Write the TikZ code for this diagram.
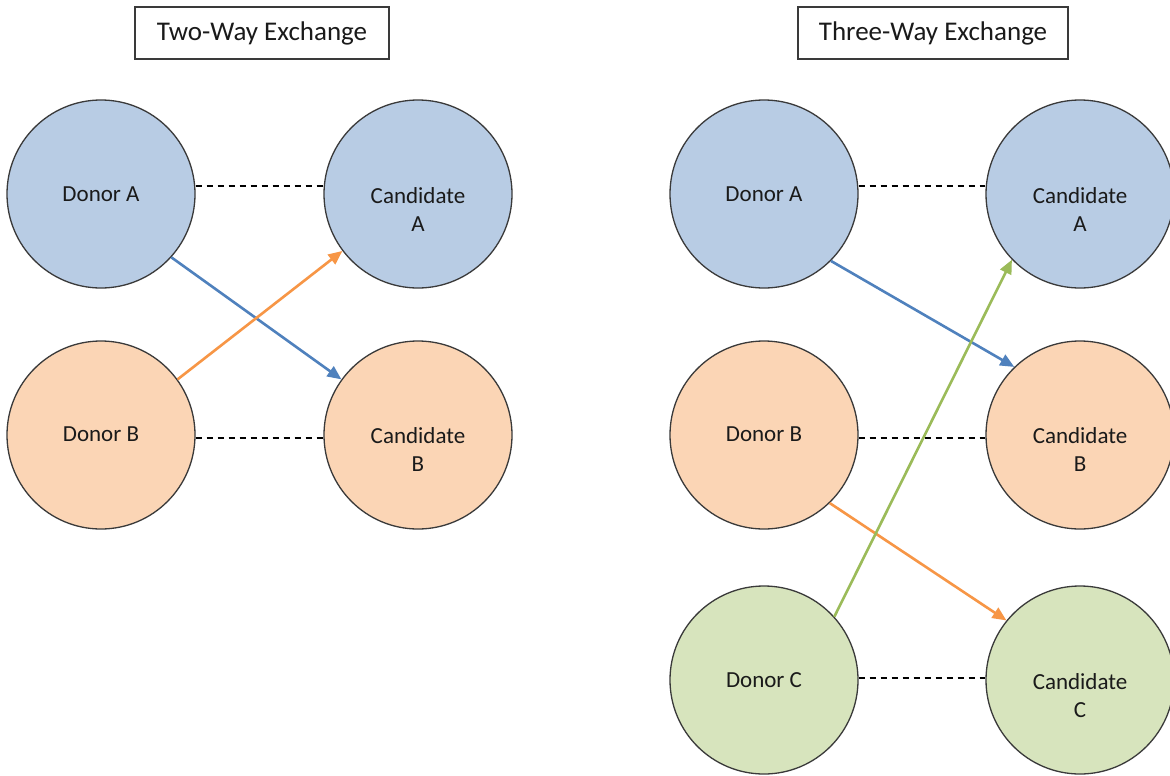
\documentclass[tikz,border=0pt]{standalone}
\usepackage{fontspec}
\setmainfont{Carlito}
\usetikzlibrary{arrows.meta}
\definecolor{blueF}{HTML}{B8CCE4}
\definecolor{orangeF}{HTML}{FBD5B5}
\definecolor{greenF}{HTML}{D7E4BD}
\definecolor{blueL}{HTML}{4F81BD}
\definecolor{orangeL}{HTML}{F79646}
\definecolor{greenL}{HTML}{9BBB59}
\definecolor{edgeC}{HTML}{3A3A3A}
\definecolor{txtC}{HTML}{1A1A1A}
\tikzset{
  party/.style={circle, draw=edgeC, line width=1.3pt, minimum size=188pt, inner sep=0pt},
  lbl/.style={font=\fontsize{23}{28}\selectfont, text=txtC, align=center, inner sep=0pt},
  titlebox/.style={draw=edgeC, line width=1.3pt, font=\fontsize{27}{32}\selectfont, text=txtC, minimum height=52pt, inner sep=0pt},
  pairline/.style={draw=black, line width=1.3pt, dash pattern=on 6.5pt off 4.5pt},
  give/.style={line width=2.6pt, -{Triangle[length=14pt,width=12pt]}},
}
\begin{document}
\begin{tikzpicture}[x=1pt,y=-1pt]
\useasboundingbox[fill=white] (0,0) rectangle (1170,776);
% titles
\node[titlebox, minimum width=254pt] (t2) at (262,33) {Two-Way Exchange};
\node[titlebox, minimum width=270pt] (t3) at (933,33) {Three-Way Exchange};
% two-way
\node[party, fill=blueF] (da) at (101,194) {};
\node[party, fill=blueF] (ca) at (418,194) {};
\node[party, fill=orangeF] (db) at (101,435) {};
\node[party, fill=orangeF] (cb) at (418,435) {};
\node[lbl] (tda) at (101,194) {Donor A};
\node[lbl] (tca) at (418,210) {Candidate\\A};
\node[lbl] (tdb) at (101,434) {Donor B};
\node[lbl] (tcb) at (418,450) {Candidate\\B};
\draw[pairline] (da.east |- 0,186) coordinate (p1) -- (ca.west |- 0,186) coordinate (p2);
\draw[pairline] (db.east |- 0,438) coordinate (p3) -- (cb.west |- 0,438) coordinate (p4);
\draw[give, draw=blueL, fill=blueL] (da.-42) -- (cb.144);
\draw[give, draw=orangeL, fill=orangeL] (db.36) -- (ca.217);
% three-way
\node[party, fill=blueF] (rda) at (764,194) {};
\node[party, fill=blueF] (rca) at (1080,194) {};
\node[party, fill=orangeF] (rdb) at (764,435) {};
\node[party, fill=orangeF] (rcb) at (1080,435) {};
\node[party, fill=greenF] (rdc) at (764,680) {};
\node[party, fill=greenF] (rcc) at (1080,680) {};
\node[lbl] (trda) at (764,194) {Donor A};
\node[lbl] (trca) at (1080,210) {Candidate\\A};
\node[lbl] (trdb) at (764,434) {Donor B};
\node[lbl] (trcb) at (1080,450) {Candidate\\B};
\node[lbl] (trdc) at (764,680) {Donor C};
\node[lbl] (trcc) at (1080,696) {Candidate\\C};
\draw[pairline] (rda.east |- 0,186) coordinate (q1) -- (rca.west |- 0,186) coordinate (q2);
\draw[pairline] (rdb.east |- 0,438) coordinate (q3) -- (rcb.west |- 0,438) coordinate (q4);
\draw[pairline] (rdc.east |- 0,678) coordinate (q5) -- (rcc.west |- 0,678) coordinate (q6);
\draw[give, draw=blueL, fill=blueL] (rda.-45) -- (rcb.134);
\draw[give, draw=orangeL, fill=orangeL] (rdb.-46) -- (rcc.141);
\draw[give, draw=greenL, fill=greenL] (rdc.42) -- (rca.224);
\end{tikzpicture}
\end{document}
